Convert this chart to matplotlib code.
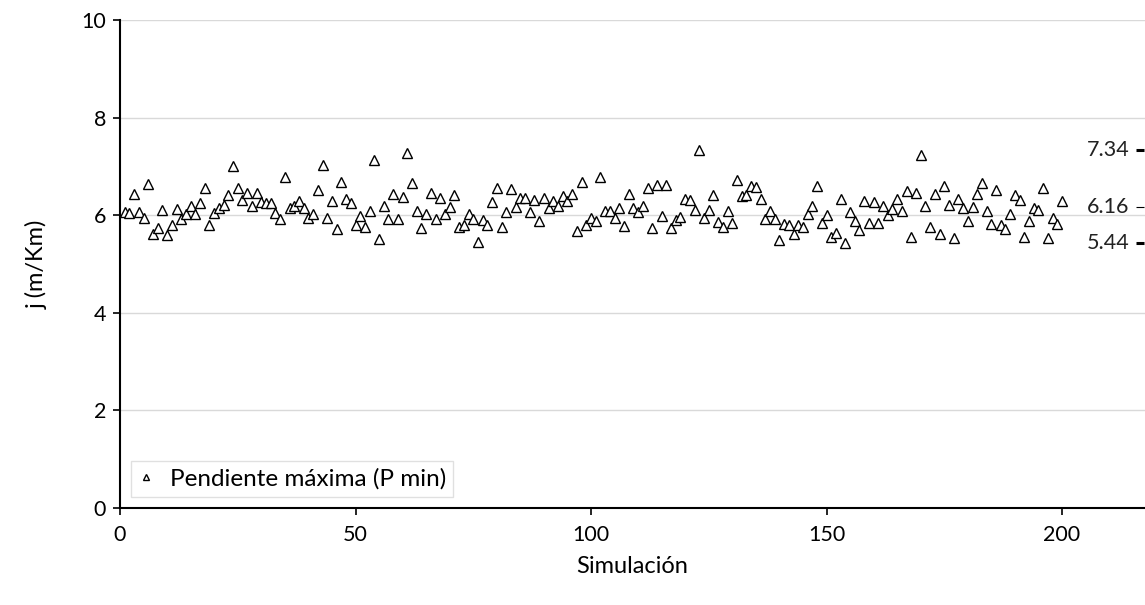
import matplotlib
matplotlib.use("Agg")
import matplotlib.pyplot as plt

plt.rcParams['font.family'] = ['Lato', 'DejaVu Sans']

# pendiente máxima por simulación (1..200)
pendiente = [
    6.07, 6.05, 6.43, 6.07, 5.94, 6.64, 5.62, 5.73, 6.10, 5.59,
    5.80, 6.12, 5.93, 6.02, 6.18, 6.03, 6.26, 6.55, 5.80, 6.04,
    6.14, 6.20, 6.41, 7.00, 6.55, 6.31, 6.46, 6.18, 6.46, 6.27,
    6.25, 6.25, 6.04, 5.93, 6.79, 6.14, 6.19, 6.29, 6.14, 5.94,
    6.02, 6.52, 7.03, 5.94, 6.29, 5.71, 6.68, 6.33, 6.25, 5.80,
    5.99, 5.75, 6.09, 7.13, 5.51, 6.19, 5.93, 6.43, 5.93, 6.38,
    7.28, 6.67, 6.09, 5.73, 6.03, 6.45, 5.93, 6.35, 6.02, 6.16,
    6.42, 5.75, 5.80, 6.03, 5.92, 5.45, 5.90, 5.80, 6.28, 6.55,
    5.75, 6.07, 6.53, 6.16, 6.36, 6.36, 6.07, 6.31, 5.88, 6.36,
    6.14, 6.29, 6.18, 6.40, 6.29, 6.43, 5.68, 6.69, 5.80, 5.94,
    5.89, 6.79, 6.09, 6.09, 5.94, 6.14, 5.77, 6.44, 6.14, 6.07,
    6.19, 6.55, 5.73, 6.61, 5.99, 6.62, 5.73, 5.90, 5.97, 6.33,
    6.31, 6.10, 7.34, 5.94, 6.11, 6.41, 5.87, 5.75, 6.08, 5.85,
    6.72, 6.40, 6.42, 6.59, 6.57, 6.33, 5.93, 6.08, 5.92, 5.49,
    5.82, 5.80, 5.62, 5.80, 5.75, 6.03, 6.19, 6.59, 5.83, 6.01,
    5.56, 5.63, 6.33, 5.44, 6.07, 5.88, 5.70, 6.29, 5.84, 6.28,
    5.84, 6.19, 6.01, 6.12, 6.33, 6.09, 6.50, 5.56, 6.45, 7.24,
    6.18, 5.75, 6.44, 5.62, 6.60, 6.21, 5.53, 6.34, 6.14, 5.88,
    6.16, 6.43, 6.66, 6.09, 5.82, 6.52, 5.80, 5.71, 6.02, 6.42,
    6.31, 5.56, 5.88, 6.14, 6.10, 6.55, 5.54, 5.94, 5.82, 6.29,
]
simulacion = list(range(1, len(pendiente) + 1))

# máximo, media, mínimo marcados a la derecha
stat_values = [7.34, 6.16, 5.44]
stat_labels = ['7.34', '6.16', '5.44']
stat_x = 216.6

fig = plt.figure(figsize=(11.45, 6.05), dpi=100)
ax = fig.add_axes([120 / 1145, 97 / 605, 1 - 120 / 1145, 488 / 605])

ax.plot(simulacion, pendiente, linestyle='none', marker='^', markersize=7,
        markerfacecolor='white', markeredgecolor='black', markeredgewidth=1.0,
        label='Pendiente máxima (P min)', zorder=3)

for v, lab, lw in zip(stat_values, stat_labels, [2.2, 0.8, 2.2]):
    ax.plot([stat_x], [v], marker='_', markersize=6, markeredgewidth=lw,
            color='black', clip_on=False, zorder=3)
    ax.text(stat_x - 2.3, v, lab, ha='right', va='center', fontsize=15.5,
            color='#222222')

ax.set_xlim(0, 1025 / 4.71)
ax.set_ylim(0, 10)
ax.set_xticks([0, 50, 100, 150, 200])
ax.set_yticks([0, 2, 4, 6, 8, 10])
ax.tick_params(axis='both', labelsize=15.5, length=5, width=1.2, direction='out',
               colors='black', pad=7)
ax.tick_params(axis='y', pad=5)
ax.yaxis.grid(True, color='#d9d9d9', linewidth=1.0)
ax.set_axisbelow(True)

for s in ['top', 'right']:
    ax.spines[s].set_visible(False)
for s in ['left', 'bottom']:
    ax.spines[s].set_linewidth(1.5)

ax.set_xlabel('Simulación', fontsize=17, labelpad=8)
ax.set_ylabel('j (m/Km)', fontsize=17, labelpad=24)

leg = ax.legend(loc='lower left', bbox_to_anchor=(0.0107, 0.022), borderaxespad=0,
                fontsize=17.5, frameon=True, fancybox=False, handlelength=0.6,
                handletextpad=0.7, markerscale=0.55, borderpad=0.3)
leg.get_frame().set_edgecolor('#d9d9d9')
leg.get_frame().set_linewidth(1.0)

fig.savefig('out.png', dpi=100)
